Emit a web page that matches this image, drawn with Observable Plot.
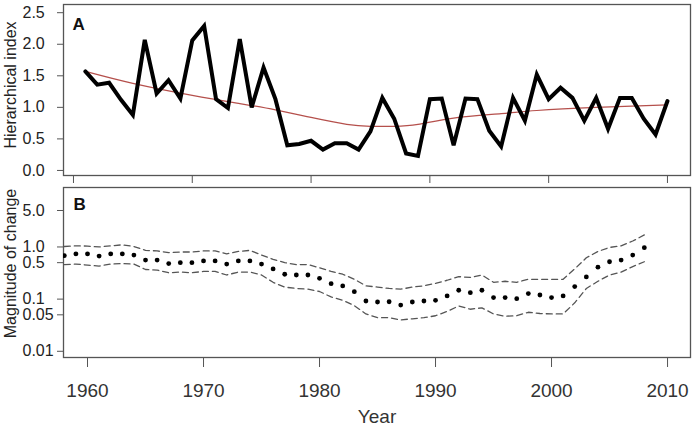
<!DOCTYPE html>
<html>
<head>
<meta charset="utf-8">
<script src="https://cdn.jsdelivr.net/npm/d3@7"></script>
<script src="https://cdn.jsdelivr.net/npm/@observablehq/plot@0.6"></script>
<style>
  body { margin: 0; background: #fff; }
  #chart { position: relative; width: 696px; height: 428px; font-family: "Liberation Sans", Arial, sans-serif; }
  #chart svg { display: block; }
</style>
</head>
<body>
<div id="chart"></div>
<script>
// ---------- Panel A data ----------
const yearsA = [1961,1962,1963,1964,1965,1966,1967,1968,1969,1970,1971,1972,1973,1974,1975,1976,1977,1978,1979,1980,1981,1982,1983,1984,1985,1986,1987,1988,1989,1990,1991,1992,1993,1994,1995,1996,1997,1998,1999,2000,2001,2002,2003,2004,2005,2006,2007,2008,2009,2010];
const hierIndex = [1.57,1.36,1.39,1.12,0.88,2.07,1.22,1.43,1.14,2.06,2.29,1.13,0.99,2.08,1.00,1.63,1.13,0.40,0.42,0.47,0.33,0.43,0.43,0.33,0.62,1.15,0.82,0.27,0.23,1.13,1.14,0.40,1.14,1.13,0.63,0.38,1.15,0.79,1.52,1.13,1.31,1.15,0.79,1.15,0.66,1.15,1.15,0.82,0.57,1.10];
const trendYears = [1961,1965,1970,1974,1977,1980,1983,1985,1987,1989,1992,1996,1999,2004,2010];
const trendValues = [1.57,1.38,1.19,1.06,0.96,0.84,0.73,0.70,0.70,0.73,0.83,0.90,0.95,1.00,1.04];
const yTicksA = [0, 0.5, 1.0, 1.5, 2.0, 2.5];
const yTickLabelsA = ["0.0","0.5","1.0","1.5","2.0","2.5"];
const xTicks = [1960, 1970, 1980, 1990, 2000, 2010];

// ---------- Panel B data ----------
const yearsB = [1958,1959,1960,1961,1962,1963,1964,1965,1966,1967,1968,1969,1970,1971,1972,1973,1974,1975,1976,1977,1978,1979,1980,1981,1982,1983,1984,1985,1986,1987,1988,1989,1990,1991,1992,1993,1994,1995,1996,1997,1998,1999,2000,2001,2002,2003,2004,2005,2006,2007,2008];
const magnitude = [0.68,0.74,0.74,0.67,0.74,0.74,0.70,0.56,0.56,0.48,0.50,0.50,0.54,0.54,0.47,0.54,0.54,0.47,0.38,0.30,0.29,0.29,0.25,0.198,0.179,0.139,0.092,0.088,0.089,0.077,0.088,0.092,0.095,0.115,0.148,0.133,0.148,0.107,0.107,0.102,0.128,0.12,0.107,0.115,0.174,0.266,0.41,0.52,0.56,0.70,0.97];
const upperB = [1.02,1.05,1.04,1.00,1.05,1.10,1.02,0.86,0.84,0.78,0.80,0.80,0.84,0.84,0.74,0.82,0.86,0.70,0.58,0.50,0.46,0.46,0.40,0.34,0.30,0.24,0.18,0.17,0.16,0.155,0.17,0.18,0.20,0.23,0.27,0.26,0.29,0.21,0.22,0.21,0.24,0.24,0.24,0.24,0.38,0.62,0.82,0.98,1.05,1.30,1.70];
const lowerB = [0.46,0.47,0.45,0.43,0.47,0.48,0.47,0.37,0.36,0.32,0.33,0.32,0.34,0.34,0.29,0.33,0.33,0.29,0.21,0.17,0.16,0.155,0.14,0.11,0.095,0.075,0.052,0.044,0.044,0.040,0.042,0.044,0.048,0.058,0.074,0.064,0.068,0.052,0.047,0.048,0.056,0.053,0.052,0.052,0.085,0.16,0.22,0.29,0.33,0.42,0.52];
const yTicksB = [0.01, 0.05, 0.1, 0.5, 1, 5];
const yTickLabelsB = ["0.01","0.05","0.1","0.5","1.0","5.0"];

// ---------- tables ----------
const seriesA = yearsA.map((year, i) => ({year, value: hierIndex[i]}));
const trendA = trendYears.map((year, i) => ({year, value: trendValues[i]}));
const seriesB = yearsB.map((year, i) => ({year, mid: magnitude[i], hi: upperB[i], lo: lowerB[i]}));
const ticksTableA = yTicksA.map((v, i) => ({v, label: yTickLabelsA[i]}));
const ticksTableB = yTicksB.map((v, i) => ({v, label: yTickLabelsB[i]}));

const font = '"Liberation Sans", Arial, sans-serif';
const frameColor = "#555";
const textColor = "#222";

const panelA = Plot.plot({
  width: 696, height: 186,
  marginTop: 4, marginBottom: 11, marginLeft: 63, marginRight: 6,
  style: {fontFamily: font, fontSize: "16px", color: textColor, background: "transparent"},
  x: {domain: [1959.16, 2011.94]},
  y: {domain: [-0.08, 2.63]},
  marks: [
    Plot.frame({stroke: frameColor, strokeWidth: 1.3}),
    Plot.axisY({ticks: yTicksA, tickFormat: () => "", tickSize: 6, stroke: frameColor, label: null}),
    Plot.text(ticksTableA, {y: "v", text: "label", frameAnchor: "left", dx: -41, textAnchor: "start", fontSize: 16, fill: textColor}),
    Plot.axisX({ticks: xTicks, tickFormat: () => "", tickSize: 8, stroke: frameColor, label: null}),
    Plot.line(trendA, {x: "year", y: "value", curve: "natural", stroke: "#b5504c", strokeWidth: 1.2}),
    Plot.line(seriesA, {x: "year", y: "value", stroke: "black", strokeWidth: 4, strokeLinejoin: "miter", strokeMiterlimit: 4}),
    Plot.text(["A"], {frameAnchor: "top-left", dx: 9, dy: 13, fontWeight: "bold", fontSize: 17, fill: "#111", lineAnchor: "top"}),
    Plot.text(["Hierarchical index"], {frameAnchor: "left", rotate: -90, dx: -53, dy: -5, fontSize: 16, fill: textColor, textAnchor: "middle"})
  ]
});

const panelB = Plot.plot({
  width: 696, height: 242,
  marginTop: 1, marginBottom: 71, marginLeft: 63, marginRight: 6,
  style: {fontFamily: font, fontSize: "16px", color: textColor, background: "transparent"},
  x: {domain: [1957.93, 2011.98]},
  y: {type: "log", domain: [0.0076, 13.8]},
  marks: [
    Plot.frame({stroke: frameColor, strokeWidth: 1.3}),
    Plot.axisY({ticks: yTicksB, tickFormat: () => "", tickSize: 6, stroke: frameColor, label: null}),
    Plot.text(ticksTableB, {y: "v", text: "label", frameAnchor: "left", dx: -41, textAnchor: "start", fontSize: 16, fill: textColor}),
    Plot.axisX({ticks: xTicks, tickFormat: "d", tickSize: 10, tickPadding: 16, stroke: frameColor, fontSize: 19, fill: "#333", label: null}),
    Plot.line(seriesB, {x: "year", y: "hi", stroke: "#555", strokeWidth: 1.3, strokeDasharray: "6,4", clip: true}),
    Plot.line(seriesB, {x: "year", y: "lo", stroke: "#555", strokeWidth: 1.3, strokeDasharray: "6,4", clip: true}),
    Plot.dot(seriesB, {x: "year", y: "mid", r: 2.4, fill: "black", stroke: "none", clip: true}),
    Plot.text(["B"], {frameAnchor: "top-left", dx: 10, dy: 10, fontWeight: "bold", fontSize: 17, fill: "#111", lineAnchor: "top"}),
    Plot.text(["Magnitude of change"], {frameAnchor: "left", rotate: -90, dx: -53, dy: -9, fontSize: 16, fill: textColor, textAnchor: "middle"}),
    Plot.text(["Year"], {frameAnchor: "bottom", dy: 59, fontSize: 19, fill: "#333", lineAnchor: "middle"})
  ]
});

const chart = document.getElementById("chart");
panelA.style.position = "absolute"; panelA.style.left = "0px"; panelA.style.top = "0px";
panelB.style.position = "absolute"; panelB.style.left = "0px"; panelB.style.top = "186px";
chart.appendChild(panelA);
chart.appendChild(panelB);
</script>
</body>
</html>
